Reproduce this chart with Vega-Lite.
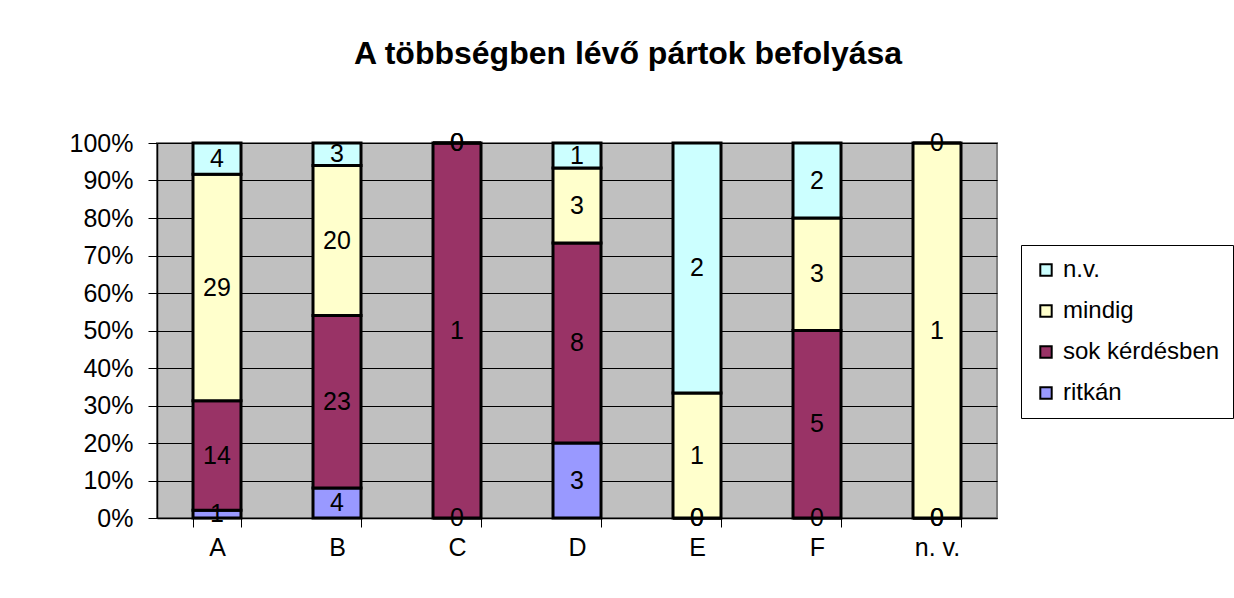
{
  "$schema": "https://vega.github.io/schema/vega-lite/v6.json",
  "width": 840,
  "height": 375,
  "autosize": {"type": "none"},
  "padding": {"left": 157, "top": 143, "right": 237, "bottom": 80},
  "background": "white",
  "title": {
    "text": "A többségben lévő pártok befolyása",
    "fontSize": 32,
    "fontWeight": "bold",
    "font": "Liberation Sans",
    "color": "black",
    "anchor": "middle",
    "frame": "group",
    "dx": 51,
    "baseline": "alphabetic",
    "offset": 35
  },
  "data": {
    "values": [
      {"cat": "A", "s": "ritkán", "v": 1},
      {"cat": "A", "s": "sok kérdésben", "v": 14},
      {"cat": "A", "s": "mindig", "v": 29},
      {"cat": "A", "s": "n.v.", "v": 4},
      {"cat": "B", "s": "ritkán", "v": 4},
      {"cat": "B", "s": "sok kérdésben", "v": 23},
      {"cat": "B", "s": "mindig", "v": 20},
      {"cat": "B", "s": "n.v.", "v": 3},
      {"cat": "C", "s": "ritkán", "v": 0},
      {"cat": "C", "s": "sok kérdésben", "v": 1},
      {"cat": "C", "s": "mindig", "v": 0},
      {"cat": "C", "s": "n.v.", "v": 0},
      {"cat": "D", "s": "ritkán", "v": 3},
      {"cat": "D", "s": "sok kérdésben", "v": 8},
      {"cat": "D", "s": "mindig", "v": 3},
      {"cat": "D", "s": "n.v.", "v": 1},
      {"cat": "E", "s": "ritkán", "v": 0},
      {"cat": "E", "s": "sok kérdésben", "v": 0},
      {"cat": "E", "s": "mindig", "v": 1},
      {"cat": "E", "s": "n.v.", "v": 2},
      {"cat": "F", "s": "ritkán", "v": 0},
      {"cat": "F", "s": "sok kérdésben", "v": 5},
      {"cat": "F", "s": "mindig", "v": 3},
      {"cat": "F", "s": "n.v.", "v": 2},
      {"cat": "n. v.", "s": "ritkán", "v": 0},
      {"cat": "n. v.", "s": "sok kérdésben", "v": 0},
      {"cat": "n. v.", "s": "mindig", "v": 1},
      {"cat": "n. v.", "s": "n.v.", "v": 0}
    ]
  },
  "transform": [
    {"calculate": "indexof(['ritkán','sok kérdésben','mindig','n.v.'], datum.s)", "as": "o"},
    {"stack": "v", "groupby": ["cat"], "sort": [{"field": "o", "order": "ascending"}], "offset": "normalize", "as": ["y0", "y1"]},
    {"calculate": "(datum.y0 + datum.y1) / 2", "as": "ym"}
  ],
  "encoding": {
    "x": {
      "field": "cat",
      "type": "nominal",
      "sort": ["A", "B", "C", "D", "E", "F", "n. v."],
      "scale": {"paddingInner": 0.6, "paddingOuter": 0.3},
      "axis": {
        "title": null,
        "labelAngle": 0,
        "tickBand": "extent",
        "tickSize": 9,
        "tickColor": "black",
        "domainColor": "black",
        "domainWidth": 1.5,
        "labelFontSize": 25,
        "labelFont": "Liberation Sans",
        "labelColor": "black",
        "labelPadding": 8
      }
    }
  },
  "layer": [
    {
      "mark": {"type": "bar", "stroke": "black", "strokeWidth": 3},
      "encoding": {
        "y": {
          "field": "y0",
          "type": "quantitative",
          "scale": {"domain": [0, 1], "nice": false},
          "axis": {
            "title": null,
            "format": ".0%",
            "tickCount": 10,
            "labelOverlap": false,
            "labelBound": false,
            "tickSize": 9,
            "tickColor": "black",
            "domainColor": "black",
            "domainWidth": 1.5,
            "grid": true,
            "gridColor": "black",
            "gridWidth": 1,
            "gridOpacity": 1,
            "labelFontSize": 25,
            "labelFont": "Liberation Sans",
            "labelColor": "black",
            "labelPadding": 15
          }
        },
        "y2": {"field": "y1"},
        "color": {
          "field": "s",
          "type": "nominal",
          "scale": {
            "domain": ["n.v.", "mindig", "sok kérdésben", "ritkán"],
            "range": ["#CCFFFF", "#FFFFCC", "#993366", "#9999FF"]
          },
          "legend": {
            "title": null,
            "orient": "none",
            "legendX": 864,
            "legendY": 102,
            "strokeColor": "black",
            "fillColor": "white",
            "padding": 13,
            "symbolType": "square",
            "symbolSize": 130,
            "symbolStrokeColor": "black",
            "symbolStrokeWidth": 2,
            "symbolOpacity": 1,
            "labelFontSize": 24,
            "labelFont": "Liberation Sans",
            "labelColor": "black",
            "rowPadding": 17,
            "labelOffset": 5
          }
        }
      }
    },
    {
      "mark": {"type": "text", "fontSize": 25, "font": "Liberation Sans", "color": "black", "baseline": "middle"},
      "encoding": {
        "y": {"field": "ym", "type": "quantitative"},
        "text": {"field": "v", "type": "quantitative"}
      }
    }
  ],
  "config": {
    "view": {"fill": "#C0C0C0", "stroke": "#808080", "strokeWidth": 2}
  }
}
